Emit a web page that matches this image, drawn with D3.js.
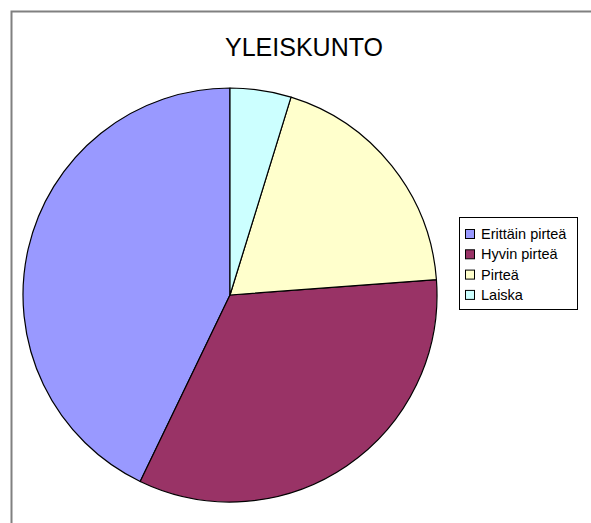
<!DOCTYPE html>
<html><head><meta charset="utf-8">
<script src="https://cdn.jsdelivr.net/npm/d3@7"></script>
<style>body{margin:0;background:#fff}svg{display:block}</style>
</head><body>
<script>
const categories = ["Erittäin pirteä", "Hyvin pirteä", "Pirteä", "Laiska"];
const values = [9, 7, 4, 1];
const colors = ["#9999FF", "#993366", "#FFFFCC", "#CCFFFF"];
const title = "YLEISKUNTO";

const W = 591, H = 523;
const svg = d3.select("body").append("svg").attr("width", W).attr("height", H);

// frame
svg.append("path").attr("d", `M11.5,${H} L11.5,11.5 L${W},11.5`)
  .attr("fill", "none").attr("stroke", "#808080").attr("stroke-width", 2);

svg.append("text").attr("x", 304).attr("y", 56).attr("text-anchor", "middle")
  .attr("font-family", "Liberation Sans, Arial, sans-serif").attr("font-size", 25)
  .attr("fill", "#000").text(title);

const cx = 230, cy = 295, r = 207;
const pie = d3.pie().sort(null).value(d => d).startAngle(0).endAngle(-2 * Math.PI);
const arc = d3.arc().innerRadius(0).outerRadius(r);
const g = svg.append("g").attr("transform", `translate(${cx},${cy})`);
g.selectAll("path").data(pie(values)).join("path")
  .attr("d", arc).attr("fill", (d, i) => colors[i])
  .attr("stroke", "#000").attr("stroke-width", 1.2).attr("stroke-linejoin", "round");

// legend
const lg = svg.append("g");
lg.append("rect").attr("x", 459.5).attr("y", 217.5).attr("width", 118).attr("height", 92)
  .attr("fill", "#fff").attr("stroke", "#000").attr("stroke-width", 1);
const items = lg.selectAll("g.it").data(categories).join("g").attr("class", "it")
  .attr("transform", (d, i) => `translate(465,${234 + i * 20.3})`);
items.append("rect").attr("x", 0.5).attr("y", -4.5).attr("width", 9).attr("height", 9)
  .attr("fill", (d, i) => colors[i]).attr("stroke", "#000").attr("stroke-width", 1);
items.append("text").attr("x", 16).attr("y", 5)
  .attr("font-family", "Liberation Sans, Arial, sans-serif").attr("font-size", 14.5)
  .attr("fill", "#000").text(d => d);
</script>
</body></html>
